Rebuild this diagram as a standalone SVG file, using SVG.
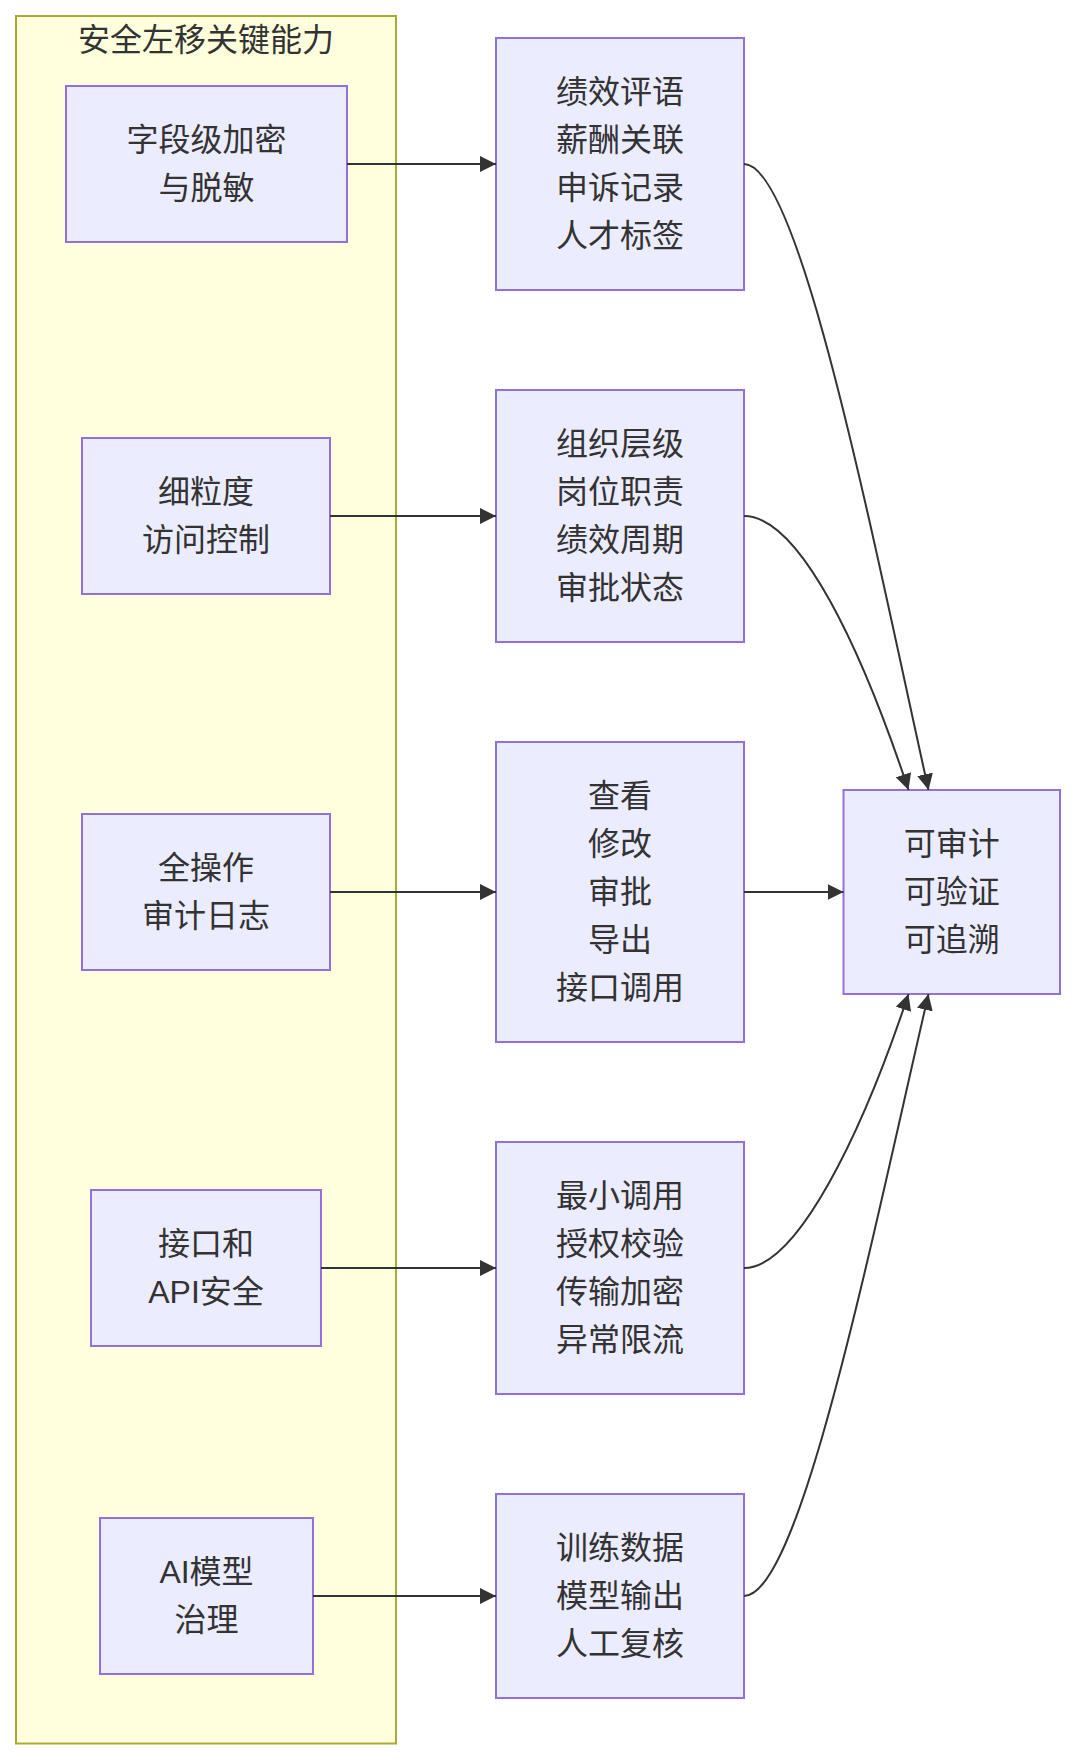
<svg xmlns="http://www.w3.org/2000/svg" width="1076" height="1760" viewBox="0 0 1076 1760">
<style>
.cl{fill:#FFFFDE;stroke:#AAAA33;stroke-width:2}
.nd{fill:#ECECFF;stroke:#9370DB;stroke-width:2}
.t{font-family:"Trebuchet MS","Liberation Sans","Noto Sans CJK SC",sans-serif;font-size:32px;fill:#333333;text-anchor:middle;dominant-baseline:central}
.e{fill:none;stroke:#333333;stroke-width:2}
</style>
<defs>
<marker id="ah" viewBox="0 0 10 10" refX="10" refY="5" markerUnits="userSpaceOnUse" markerWidth="16" markerHeight="16" orient="auto">
<path d="M0,0 L10,5 L0,10 z" fill="#333333"/>
</marker>
</defs>
<g id="cluster">
<rect class="cl" x="16" y="16" width="380" height="1727.5"/>
<text class="t" x="206" y="40">安全左移关键能力</text>
</g>
<g id="A1"><rect class="nd" x="66" y="86" width="281" height="156"/><text class="t" x="206.5"><tspan x="206.5" y="140">字段级加密</tspan><tspan x="206.5" y="188">与脱敏</tspan></text></g>
<g id="A2"><rect class="nd" x="82" y="438" width="248" height="156"/><text class="t"><tspan x="206" y="492">细粒度</tspan><tspan x="206" y="540">访问控制</tspan></text></g>
<g id="A3"><rect class="nd" x="82" y="814" width="248" height="156"/><text class="t"><tspan x="206" y="868">全操作</tspan><tspan x="206" y="916">审计日志</tspan></text></g>
<g id="A4"><rect class="nd" x="91" y="1190" width="230" height="156"/><text class="t"><tspan x="206" y="1244">接口和</tspan><tspan x="206" y="1292">API安全</tspan></text></g>
<g id="A5"><rect class="nd" x="100" y="1518" width="213" height="156"/><text class="t"><tspan x="206.5" y="1572">AI模型</tspan><tspan x="206.5" y="1620">治理</tspan></text></g>
<g id="B1"><rect class="nd" x="496" y="38" width="248" height="252"/><text class="t"><tspan x="620" y="92">绩效评语</tspan><tspan x="620" y="140">薪酬关联</tspan><tspan x="620" y="188">申诉记录</tspan><tspan x="620" y="236">人才标签</tspan></text></g>
<g id="B2"><rect class="nd" x="496" y="390" width="248" height="252"/><text class="t"><tspan x="620" y="444">组织层级</tspan><tspan x="620" y="492">岗位职责</tspan><tspan x="620" y="540">绩效周期</tspan><tspan x="620" y="588">审批状态</tspan></text></g>
<g id="B3"><rect class="nd" x="496" y="742" width="248" height="300"/><text class="t"><tspan x="620" y="796">查看</tspan><tspan x="620" y="844">修改</tspan><tspan x="620" y="892">审批</tspan><tspan x="620" y="940">导出</tspan><tspan x="620" y="988">接口调用</tspan></text></g>
<g id="B4"><rect class="nd" x="496" y="1142" width="248" height="252"/><text class="t"><tspan x="620" y="1196">最小调用</tspan><tspan x="620" y="1244">授权校验</tspan><tspan x="620" y="1292">传输加密</tspan><tspan x="620" y="1340">异常限流</tspan></text></g>
<g id="B5"><rect class="nd" x="496" y="1494" width="248" height="204"/><text class="t"><tspan x="620" y="1548">训练数据</tspan><tspan x="620" y="1596">模型输出</tspan><tspan x="620" y="1644">人工复核</tspan></text></g>
<g id="T"><rect class="nd" x="843.5" y="790" width="216.5" height="204"/><text class="t"><tspan x="951.75" y="844">可审计</tspan><tspan x="951.75" y="892">可验证</tspan><tspan x="951.75" y="940">可追溯</tspan></text></g>
<g id="connectors">
<path class="e" marker-end="url(#ah)" d="M347,164 L496,164"/>
<path class="e" marker-end="url(#ah)" d="M330,516 L496,516"/>
<path class="e" marker-end="url(#ah)" d="M330,892 L496,892"/>
<path class="e" marker-end="url(#ah)" d="M321,1268 L496,1268"/>
<path class="e" marker-end="url(#ah)" d="M313,1596 L496,1596"/>
<path class="e" marker-end="url(#ah)" d="M744,892 L843.5,892"/>
<path class="e" marker-end="url(#ah)" d="M744,164 C800,164 873,540 928.5,790"/>
<path class="e" marker-end="url(#ah)" d="M744,516 C800,516 862,650 908.5,790"/>
<path class="e" marker-end="url(#ah)" d="M744,1268 C797,1268 862,1134 908.5,994"/>
<path class="e" marker-end="url(#ah)" d="M744,1596 C800,1596 870.5,1244 928.5,994"/>
</g>
</svg>
